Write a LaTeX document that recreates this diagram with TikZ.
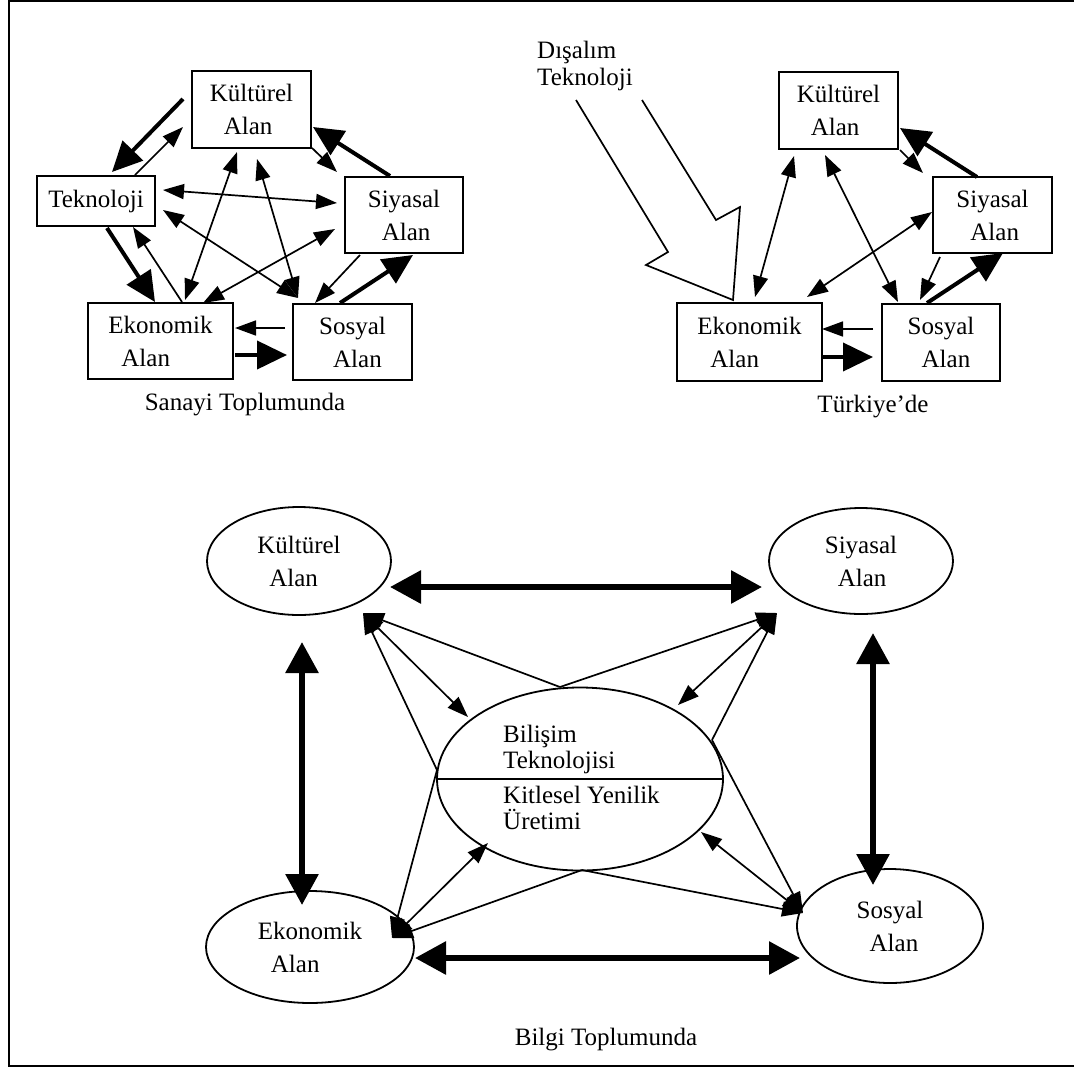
\documentclass[tikz,border=0pt]{standalone}
\usepackage{fontspec}
\setmainfont{Liberation Serif}
\usetikzlibrary{arrows.meta,shapes.geometric}
\begin{document}
\begin{tikzpicture}[x=1pt,y=-1pt,
  every node/.style={font=\fontsize{25}{33}\selectfont, inner sep=0pt},
  box/.style={draw, line width=1.8pt, align=left},
  oval/.style={draw, ellipse, line width=1.8pt, align=left},
  txt/.style={align=left},
  thinarr/.style={line width=1.7pt, -{Triangle[length=21pt,width=15pt]}},
  thinboth/.style={line width=1.7pt, {Triangle[length=21pt,width=15pt]}-{Triangle[length=21pt,width=15pt]}},
  heavyarr/.style={line width=4pt, -{Triangle[length=30pt,width=28pt]}},
  bigboth/.style={line width=6pt, {Triangle[length=31pt,width=32pt]}-{Triangle[length=31pt,width=32pt]}},
  hollow/.style={line width=1.7pt, line join=miter}
]
\useasboundingbox (0,0) rectangle (1074,1069);

% frame
\draw[line width=2pt] (1074,1) -- (9,1) -- (9,1066) -- (1074,1066);

% ---------- industrial society ----------
\node[box, minimum width=119, minimum height=77] (kA) at (251.5,109.5) {Kültürel\\\hspace*{14pt}Alan};
\node[box, minimum width=118, minimum height=50] (tA) at (96,201) {Teknoloji};
\node[box, minimum width=118, minimum height=76] (sA) at (404,215) {Siyasal\\\hspace*{14pt}Alan};
\node[box, minimum width=145, minimum height=76] (eA) at (160.5,341) {Ekonomik\\\hspace*{13pt}Alan};
\node[box, minimum width=119, minimum height=76] (oA) at (352.5,342) {Sosyal\\\hspace*{14pt}Alan};
\node (capA) at (245,405) {Sanayi Toplumunda};

\draw[heavyarr] ([shift={(-68.5,-10.5)}]kA.center) -- ([shift={(16,-29)}]tA.center);
\draw[thinarr]  ([shift={(39,-26)}]tA.center) -- ([shift={(-68.5,17.5)}]kA.center);
\draw[thinboth] ([shift={(67,-11)}]tA.center) -- ([shift={(-67,-12)}]sA.center);
\draw[thinboth] ([shift={(67,9)}]tA.center) -- ([shift={(-54.5,-44)}]oA.center);
\draw[heavyarr] ([shift={(11,27)}]tA.center) -- ([shift={(-5.5,-39)}]eA.center);
\draw[thinarr]  ([shift={(21.5,-39)}]eA.center) -- ([shift={(37,26)}]tA.center);
\draw[thinboth] ([shift={(-14.5,42.5)}]kA.center) -- ([shift={(24.5,-41)}]eA.center);
\draw[thinboth] ([shift={(5.5,49.5)}]kA.center) -- ([shift={(-54.5,-44)}]oA.center);
\draw[thinboth] ([shift={(-69,14)}]sA.center) -- ([shift={(42.5,-38)}]eA.center);
\draw[thinarr]  ([shift={(60.5,38.5)}]kA.center) -- ([shift={(-67,-43)}]sA.center);
\draw[heavyarr] ([shift={(-14,-39)}]sA.center) -- ([shift={(61.5,17.5)}]kA.center);
\draw[thinarr]  ([shift={(-44,40)}]sA.center) -- ([shift={(-37.5,-39)}]oA.center);
\draw[heavyarr] ([shift={(-12.5,-39)}]oA.center) -- ([shift={(9,40)}]sA.center);
\draw[thinarr]  ([shift={(-67.5,-14)}]oA.center) -- ([shift={(74.5,-13)}]eA.center);
\draw[heavyarr] ([shift={(74.5,14)}]eA.center) -- ([shift={(-65.5,13)}]oA.center);

% ---------- Turkey ----------
\node[box, minimum width=119, minimum height=77] (kB) at (838.5,110.5) {Kültürel\\\hspace*{14pt}Alan};
\node[box, minimum width=119, minimum height=76] (sB) at (992.5,215) {Siyasal\\\hspace*{14pt}Alan};
\node[box, minimum width=118, minimum height=77] (oB) at (941,342.5) {Sosyal\\\hspace*{14pt}Alan};
\node[box, minimum width=145, minimum height=78] (eB) at (749.5,342) {Ekonomik\\\hspace*{13pt}Alan};
\node (capB) at (873,407) {Türkiye’de};
\node[txt, font=\fontsize{25}{27}\selectfont, anchor=west] (imp) at (537,66) {Dışalım\\Teknoloji};

% imported technology: hollow block arrow
\draw[hollow] (576,100) -- (668,252) -- (646,265) -- (733,300) -- (740,207) -- (716,220) -- (642,100);

\draw[thinboth] ([shift={(-44.5,45.5)}]kB.center) -- ([shift={(5.5,-45)}]eB.center);
\draw[thinboth] ([shift={(-13.5,44.5)}]kB.center) -- ([shift={(-43,-40.5)}]oB.center);
\draw[thinboth] ([shift={(-60.5,-3)}]sB.center) -- ([shift={(57.5,-45)}]eB.center);
\draw[thinarr]  ([shift={(61.5,39.5)}]kB.center) -- ([shift={(-69.5,-42)}]sB.center);
\draw[heavyarr] ([shift={(-15.5,-38)}]sB.center) -- ([shift={(61.5,17.5)}]kB.center);
\draw[thinarr]  ([shift={(-52.5,42)}]sB.center) -- ([shift={(-21,-42.5)}]oB.center);
\draw[heavyarr] ([shift={(-14,-39.5)}]oB.center) -- ([shift={(10.5,38)}]sB.center);
\draw[thinarr]  ([shift={(-68,-13.5)}]oB.center) -- ([shift={(72.5,-13)}]eB.center);
\draw[heavyarr] ([shift={(72.5,15)}]eB.center) -- ([shift={(-68,14.5)}]oB.center);

% ---------- information society ----------
\node[oval, minimum width=184, minimum height=108] (kC) at (299,561) {Kültürel\\\hspace*{12pt}Alan};
\node[oval, minimum width=184, minimum height=106] (sC) at (861,561) {Siyasal\\\hspace*{13pt}Alan};
\node[oval, minimum width=286, minimum height=183] (cC) at (580,779) {};
\node[oval, minimum width=208, minimum height=112] (eC) at (310,947) {Ekonomik\\\hspace*{13pt}Alan};
\node[oval, minimum width=186, minimum height=114] (oC) at (890,926) {Sosyal\\\hspace*{13pt}Alan};
\draw[line width=1.8pt] (cC.west) -- (cC.east);
\node[txt, font=\fontsize{25}{26}\selectfont, anchor=south west] (cTop) at (503,774) {Bilişim\\Teknolojisi};
\node[txt, font=\fontsize{25}{26}\selectfont, anchor=north west] (cBot) at (503,786) {Kitlesel Yenilik\\Üretimi};
\node (capC) at (606,1040) {Bilgi Toplumunda};

\draw[bigboth] ([shift={(91,26)}]kC.center) -- ([shift={(-99,26)}]sC.center);
\draw[bigboth] ([shift={(3,81)}]kC.center) -- ([shift={(-8,-42)}]eC.center);
\draw[bigboth] ([shift={(12,72)}]sC.center) -- ([shift={(-17,-41)}]oC.center);
\draw[bigboth] ([shift={(105,11)}]eC.center) -- ([shift={(-90,32)}]oC.center);

\coordinate (kTip) at ([shift={(64,52)}]kC.center);
\coordinate (sTip) at ([shift={(-84,52)}]sC.center);
\coordinate (eTip) at ([shift={(82,-9)}]eC.center);
\coordinate (oTip) at ([shift={(-87,-13)}]oC.center);
\coordinate (cN) at ([shift={(-20,-92)}]cC.center);
\coordinate (cW) at ([shift={(-143,-9)}]cC.center);
\coordinate (cE) at ([shift={(132,-39)}]cC.center);
\coordinate (cS) at ([shift={(2,91)}]cC.center);

\draw[thinarr] (cN) -- (kTip);
\draw[thinarr] (cN) -- (sTip);
\draw[thinarr] (cW) -- (kTip);
\draw[thinarr] (cW) -- (eTip);
\draw[thinarr] (cE) -- (sTip);
\draw[thinarr] (cE) -- (oTip);
\draw[thinarr] (cS) -- (eTip);
\draw[thinarr] (cS) -- (oTip);
\draw[thinboth] (kTip) -- ([shift={(-112,-62)}]cC.center);
\draw[thinboth] (sTip) -- ([shift={(98,-74)}]cC.center);
\draw[thinboth] (eTip) -- ([shift={(-92,64)}]cC.center);
\draw[thinboth] (oTip) -- ([shift={(121,53)}]cC.center);
\end{tikzpicture}
\end{document}
